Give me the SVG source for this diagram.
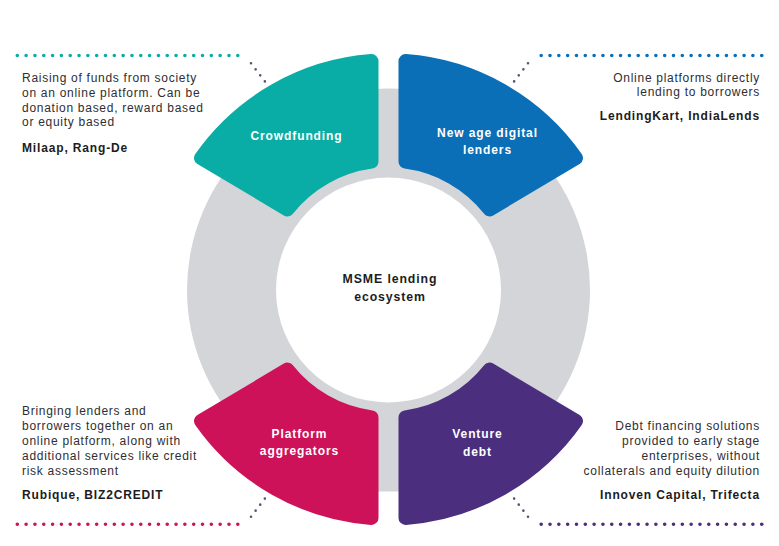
<svg xmlns="http://www.w3.org/2000/svg" width="779" height="546" viewBox="0 0 779 546">
  <style>
    .para { font-family: "Liberation Sans", Arial, sans-serif; font-size: 12px; letter-spacing: 0.72px; fill: #2e2e33; }
    .firm { font-family: "Liberation Sans", Arial, sans-serif; font-size: 12px; font-weight: bold; letter-spacing: 0.85px; fill: #1c1c22; }
    .label { font-family: "Liberation Sans", Arial, sans-serif; font-size: 12px; font-weight: bold; letter-spacing: 0.9px; fill: #ffffff; text-anchor: middle; }
    .hub { font-family: "Liberation Sans", Arial, sans-serif; font-size: 12.3px; font-weight: bold; letter-spacing: 0.9px; fill: #1c1c22; text-anchor: middle; }
    .seg { stroke-width: 14; stroke-linejoin: round; }
    .dots { fill: none; stroke-width: 3.6; stroke-linecap: round; stroke-dasharray: 0 8.82; }
    .lead { fill: none; stroke: #5a5472; stroke-width: 2.6; stroke-linecap: round; stroke-dasharray: 0 7.6; }
    .end { text-anchor: end; }
  </style>

  <rect width="779" height="546" fill="#ffffff"/>

  <!-- grey ring behind the four segments -->
  <g id="ring">
    <circle cx="388.5" cy="290" r="201.5" fill="#d4d5d9"/>
    <circle cx="388.5" cy="290" r="112.5" fill="#ffffff"/>
  </g>

  <!-- dotted leader lines from each segment to its description -->
  <g id="connectors">
    <path class="dots" stroke="#0aada5" d="M17.3,55.5 H246.6"/>
    <path class="lead" d="M251,63.3 L268,85.5"/>
    <path class="dots" stroke="#0a6fb6" d="M761.7,55.5 H532.4"/>
    <path class="lead" d="M528,63.3 L511,85.5"/>
    <path class="dots" stroke="#cd1259" d="M17.3,524.3 H246.6"/>
    <path class="lead" d="M251,516.7 L268,494.5"/>
    <path class="dots" stroke="#4b2e7e" d="M761.7,524.3 H532.4"/>
    <path class="lead" d="M528,516.7 L511,494.5"/>
  </g>

  <g id="crowdfunding">
    <path class="seg" fill="#0aada5" stroke="#0aada5" d="M371.5,161.6 L371.5,61.1 A229,229 0 0 0 201.0,158.0 L287.4,209.4 A129,129 0 0 1 371.5,161.6 Z"/>
    <text class="label" x="296.5" y="140">Crowdfunding</text>
    <text class="para" x="22" y="82">Raising of funds from society</text>
    <text class="para" x="22" y="97">on an online platform. Can be</text>
    <text class="para" x="22" y="112">donation based, reward based</text>
    <text class="para" x="22" y="126">or equity based</text>
    <text class="firm" x="22" y="152">Milaap, Rang-De</text>
  </g>

  <g id="digital-lenders">
    <path class="seg" fill="#0a6fb6" stroke="#0a6fb6" d="M405.5,161.6 L405.5,61.1 A229,229 0 0 1 576.0,158.0 L489.6,209.4 A129,129 0 0 0 405.5,161.6 Z"/>
    <text class="label" x="487.5" y="137">New age digital</text>
    <text class="label" x="487.5" y="154">lenders</text>
    <text class="para end" x="760" y="82">Online platforms directly</text>
    <text class="para end" x="760" y="96">lending to borrowers</text>
    <text class="firm end" x="760" y="120">LendingKart, IndiaLends</text>
  </g>

  <g id="platform-aggregators">
    <path class="seg" fill="#cd1259" stroke="#cd1259" d="M371.5,417.4 L371.5,517.9 A229,229 0 0 1 201.0,421.0 L287.4,369.6 A129,129 0 0 0 371.5,417.4 Z"/>
    <text class="label" x="299.5" y="438">Platform</text>
    <text class="label" x="299.5" y="455">aggregators</text>
    <text class="para" x="22" y="415">Bringing lenders and</text>
    <text class="para" x="22" y="430">borrowers together on an</text>
    <text class="para" x="22" y="445">online platform, along with</text>
    <text class="para" x="22" y="460">additional services like credit</text>
    <text class="para" x="22" y="475">risk assessment</text>
    <text class="firm" x="22" y="499">Rubique, BIZ2CREDIT</text>
  </g>

  <g id="venture-debt">
    <path class="seg" fill="#4b2e7e" stroke="#4b2e7e" d="M405.5,417.4 L405.5,517.9 A229,229 0 0 0 576.0,421.0 L489.6,369.6 A129,129 0 0 1 405.5,417.4 Z"/>
    <text class="label" x="477.5" y="438">Venture</text>
    <text class="label" x="477.5" y="456">debt</text>
    <text class="para end" x="760" y="430">Debt financing solutions</text>
    <text class="para end" x="760" y="445">provided to early stage</text>
    <text class="para end" x="760" y="460">enterprises, without</text>
    <text class="para end" x="760" y="475">collaterals and equity dilution</text>
    <text class="firm end" x="760" y="499">Innoven Capital, Trifecta</text>
  </g>

  <g id="hub">
    <text class="hub" x="390" y="283">MSME lending</text>
    <text class="hub" x="390" y="301">ecosystem</text>
  </g>
</svg>
